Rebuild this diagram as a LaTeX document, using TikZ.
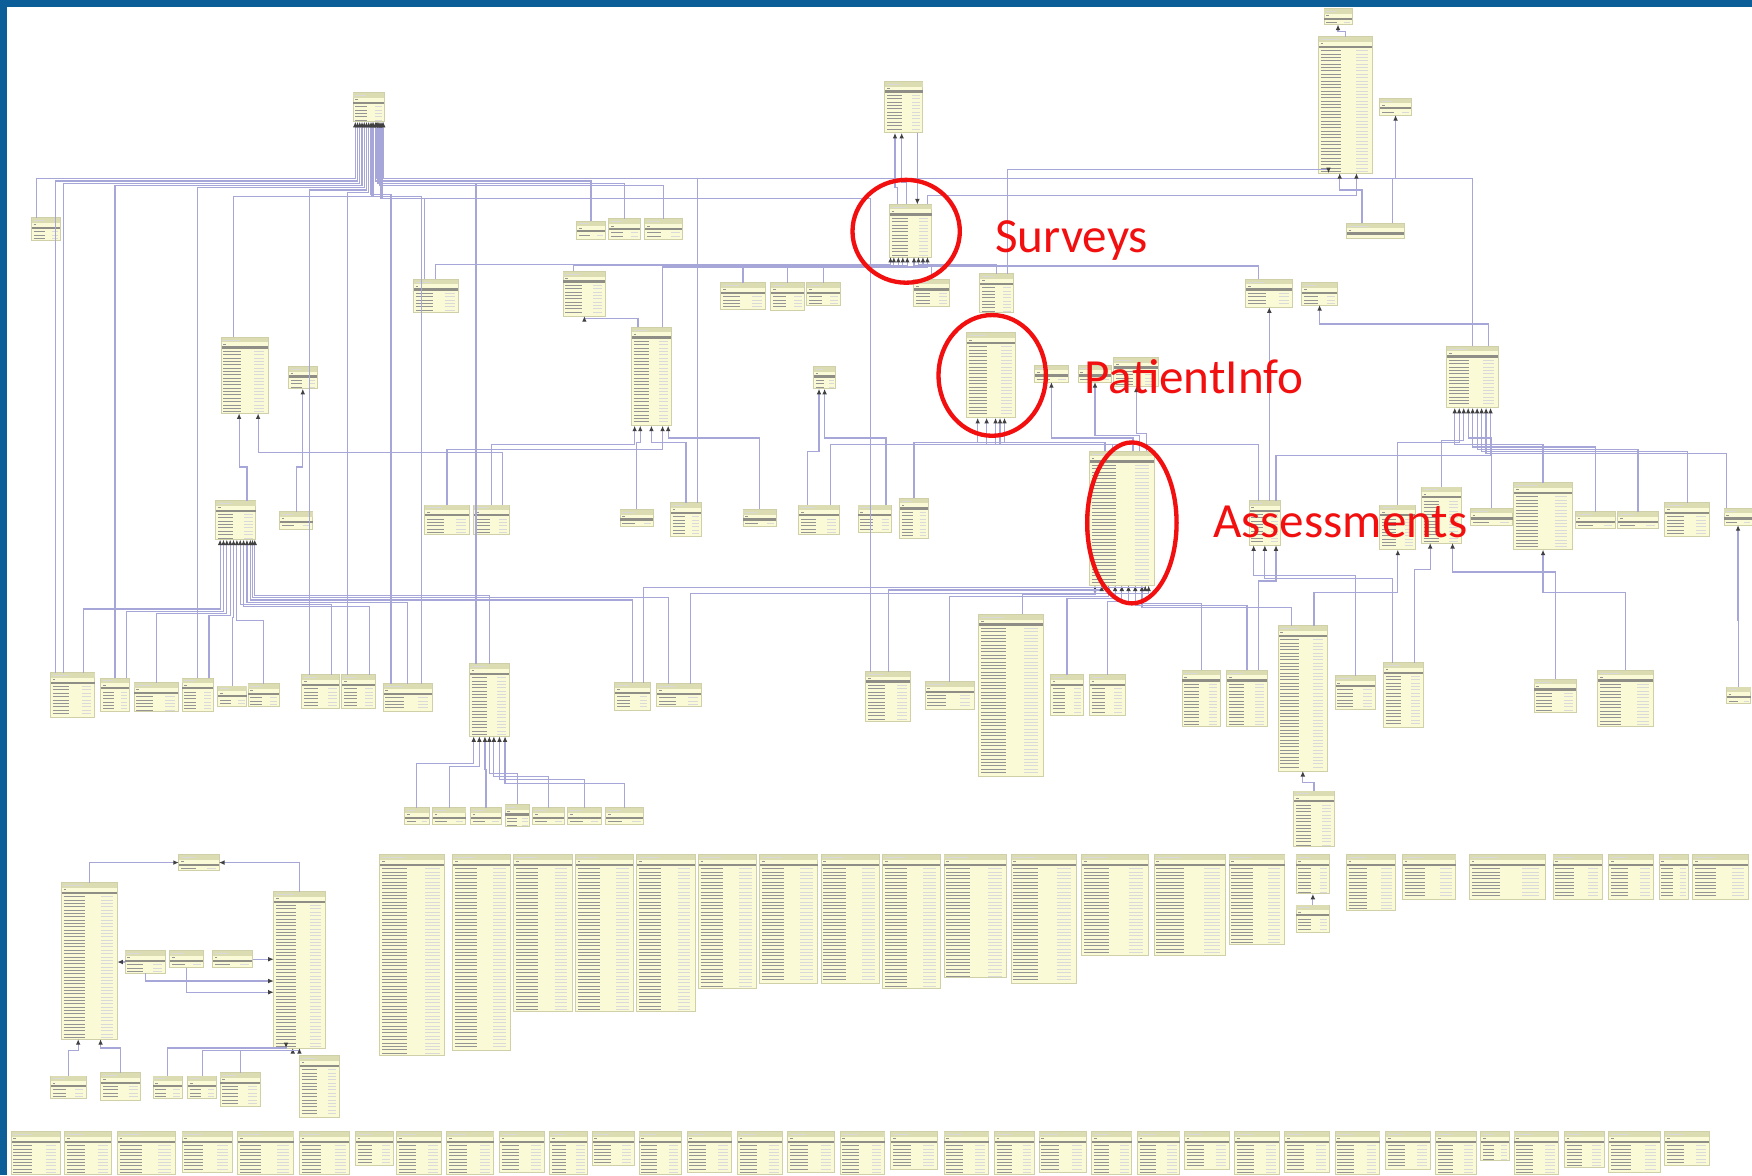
\documentclass[tikz,border=0pt]{standalone}
\usepackage{fontspec}
\newfontfamily\calloutfont{Carlito}
\usetikzlibrary{shapes.geometric,arrows.meta,calc}
\definecolor{frameblue}{HTML}{0B5E97}
\definecolor{tblfill}{HTML}{FAFAD6}
\definecolor{tbledge}{HTML}{CFCFA8}
\definecolor{tblhead}{HTML}{DCDCB2}
\definecolor{tblbar}{HTML}{8E8E86}
\definecolor{linkc}{HTML}{A6A6D8}
\definecolor{markred}{HTML}{F20F0F}
\tikzset{
  tblbox/.style={draw=tbledge,fill=tblfill,line width=0.25pt,inner sep=0pt,outer sep=0pt},
  tblhead/.style={fill=tblhead},
  tblbar/.style={fill=tblbar},
  rowtxt/.style={draw=black!42,line width=0.25pt},
  rowtxt2/.style={draw=black!15,line width=0.25pt},
  fk/.style={draw=linkc,line width=0.3pt,-{Latex[length=1.4pt,width=1.2pt,black!75]}},
  hilite/.style={ellipse,draw=markred,line width=1.1pt,inner sep=0pt},
  callout/.style={text=markred,font=\calloutfont\fontsize{12.5}{13}\selectfont,inner sep=0pt,anchor=base west},
  frame/.style={fill=frameblue}
}
% one table: name, left, top, width, height (units of the sheet)
\newcommand\dbtab[5]{%
  \node[tblbox,minimum width=#4*0.1mm,minimum height=#5*0.1mm] (#1) at ({#2+#4/2},{#3+#5/2}) {};
  \begin{scope}[shift={(#2,#3)}]
    \fill[tblhead] (0.3,0.3) rectangle ({#4-0.3},4.5);
    \draw[rowtxt2] (2,2.4) -- ++({#4*0.35},0);
    \draw[rowtxt] (2,6.3) -- ++(2.5,0);
    \fill[tblbar] (0.3,8) rectangle ({#4-0.3},10);
    \pgfmathtruncatemacro\nrows{(#5-11)/3}
    \ifnum\nrows>0
      \foreach \r in {1,...,\nrows}{
        \draw[rowtxt] (2,{9.5+3*\r}) -- ++({#4*0.38},0);
        \draw[rowtxt2] ({#4*0.7},{9.5+3*\r}) -- ++({#4*0.22},0);
      }
    \fi
  \end{scope}}
\newcommand\fk[3]{\draw[fk] (#1) -- ++(0,-#2) -| (#3);}

\begin{document}
\begin{tikzpicture}[x=0.01cm,y=-0.01cm]
  \useasboundingbox (0,0) rectangle (1568,1052);
  \fill[white] (0,0) rectangle (1568,1052);
  \fill[frame] (0,0) rectangle (1568,6);
  \fill[frame] (0,0) rectangle (6,1052);

  % upper part
  \dbtab{resource}{316}{83}{28}{26}
  \dbtab{surveyGrp}{792}{73}{34}{46}
  \dbtab{toolTip}{1185}{8}{25}{14}
  \dbtab{appConfig}{1180}{33}{48}{122}
  \dbtab{cfgFlag}{1235}{88}{28}{15}
  \dbtab{cfgLink}{1205}{200}{52}{13}
  \dbtab{address}{28}{195}{26}{20}
  \dbtab{lkA}{516}{198}{26}{16}
  \dbtab{lkB}{545}{196}{28}{18}
  \dbtab{lkC}{577}{196}{34}{18}
  \dbtab{survey}{796}{183}{38}{47}
  \dbtab{sysSeries}{370}{250}{40}{30}
  \dbtab{sysSeq}{504}{243}{38}{40}
  \dbtab{qTempl}{645}{253}{40}{24}
  \dbtab{qItem}{690}{253}{30}{25}
  \dbtab{qMeta}{722}{253}{30}{20}
  \dbtab{qGroup}{818}{250}{32}{24}
  \dbtab{qConfig}{877}{245}{30}{35}
  \dbtab{notify}{1115}{250}{42}{25}
  \dbtab{chartA}{1165}{253}{32}{20}
  \dbtab{clinician}{198}{302}{42}{68}
  \dbtab{tagTbl}{258}{328}{26}{20}
  \dbtab{surveyItem}{565}{293}{36}{88}
  \dbtab{patientInfo}{865}{298}{44}{76}
  \dbtab{piLinkA}{926}{327}{30}{15}
  \dbtab{piLinkB}{965}{327}{30}{15}
  \dbtab{assessRes}{997}{320}{40}{26}
  \dbtab{langTbl}{728}{328}{20}{20}
  \dbtab{analyticsCfg}{1295}{310}{46}{55}
  \dbtab{assessment}{975}{404}{58}{120}

  % middle row
  \dbtab{m1}{193}{448}{36}{35}
  \dbtab{m2}{250}{458}{30}{16}
  \dbtab{m3}{380}{452}{40}{26}
  \dbtab{m4}{424}{452}{32}{26}
  \dbtab{m5}{555}{456}{30}{15}
  \dbtab{m6}{600}{450}{28}{30}
  \dbtab{m7}{665}{456}{30}{15}
  \dbtab{m8}{715}{452}{36}{26}
  \dbtab{m9}{768}{452}{30}{25}
  \dbtab{m10}{805}{446}{26}{36}
  \dbtab{report}{1118}{448}{28}{40}
  \dbtab{r2}{1235}{452}{32}{40}
  \dbtab{r3}{1272}{436}{36}{50}
  \dbtab{r4}{1316}{455}{38}{15}
  \dbtab{r5}{1355}{432}{52}{60}
  \dbtab{r6}{1410}{458}{36}{15}
  \dbtab{r7}{1448}{458}{36}{15}
  \dbtab{r8}{1490}{450}{40}{30}
  \dbtab{r9}{1543}{455}{25}{15}

  % lower row
  \dbtab{b1}{45}{602}{40}{40}
  \dbtab{b2}{90}{607}{26}{30}
  \dbtab{b3}{120}{611}{40}{26}
  \dbtab{b4}{163}{607}{28}{30}
  \dbtab{b5}{195}{614}{26}{18}
  \dbtab{b6}{222}{612}{28}{20}
  \dbtab{b7}{270}{604}{34}{30}
  \dbtab{b8}{306}{604}{30}{30}
  \dbtab{b9}{343}{612}{44}{25}
  \dbtab{fileTbl}{420}{594}{36}{65}
  \dbtab{b10}{550}{611}{32}{25}
  \dbtab{b11}{588}{612}{40}{20}
  \dbtab{b12}{775}{601}{40}{45}
  \dbtab{b13}{828}{610}{44}{25}
  \dbtab{assessItem}{876}{550}{58}{145}
  \dbtab{b14}{940}{604}{30}{36}
  \dbtab{b15}{975}{604}{32}{36}
  \dbtab{b16}{1058}{600}{34}{50}
  \dbtab{b17}{1098}{600}{36}{50}
  \dbtab{reportItem}{1144}{560}{44}{130}
  \dbtab{b18}{1195}{605}{36}{30}
  \dbtab{b19}{1238}{593}{36}{58}
  \dbtab{b20}{1373}{608}{38}{30}
  \dbtab{b21}{1430}{600}{50}{50}
  \dbtab{b22}{1545}{615}{22}{15}
  \dbtab{b23}{1158}{708}{36}{50}
  \dbtab{f1}{362}{723}{22}{15}
  \dbtab{f2}{387}{723}{30}{15}
  \dbtab{f3}{421}{723}{28}{15}
  \dbtab{f4}{452}{720}{22}{20}
  \dbtab{f5}{477}{723}{28}{15}
  \dbtab{f6}{508}{723}{30}{15}
  \dbtab{f7}{542}{723}{34}{15}

  % bottom left cluster
  \dbtab{c1}{160}{765}{36}{14}
  \dbtab{c2}{55}{790}{50}{140}
  \dbtab{c3}{245}{798}{46}{140}
  \dbtab{c4}{112}{851}{36}{20}
  \dbtab{c5}{152}{851}{30}{15}
  \dbtab{c6}{190}{851}{36}{15}
  \dbtab{c7}{45}{963}{32}{20}
  \dbtab{c8}{90}{960}{36}{25}
  \dbtab{c9}{137}{963}{26}{20}
  \dbtab{c10}{168}{963}{26}{20}
  \dbtab{c11}{197}{960}{36}{30}
  \dbtab{c12}{268}{945}{36}{55}

  % standalone columns
  \foreach \nm/\x/\w/\h in {w1/340/58/180,w2/405/52/175,w3/460/52/140,w4/515/52/140,
      w5/570/52/140,w6/625/52/120,w7/680/52/115,w8/735/52/115,w9/790/52/120,
      w10/845/56/110,w11/905/58/115,w12/968/60/90,w13/1033/64/90,w14/1100/50/80,
      w15/1160/30/35,w16/1205/44/50,w17/1255/48/40,w18/1315/68/40,w19/1390/44/40,
      w20/1440/40/40,w21/1485/26/40,w22/1515/50/40}{
    \dbtab{\nm}{\x}{765}{\w}{\h}
  }
  \dbtab{w15b}{1160}{810}{30}{25}
  \foreach \bx/\bw/\bh [count=\k] in {10/44/38,58/42/38,105/52/38,163/45/36,213/50/38,
      268/45/38,318/34/30,355/40/38,400/42/38,447/40/36,492/34/38,530/38/30,572/38/38,
      615/40/36,660/40/38,705/42/36,752/40/38,797/42/34,845/40/38,890/36/38,930/42/36,
      977/36/38,1018/38/38,1060/40/34,1105/40/38,1150/40/36,1195/40/38,1240/40/34,
      1285/36/38,1325/26/26,1355/40/38,1400/36/32,1440/46/36,1490/40/30}{
    \dbtab{bt\k}{\bx}{1013}{\bw}{\bh}
  }

  % links to resource
  \fk{[xshift=-0.8mm]address.north}{35}{[xshift=-1.2mm]resource.south}
  \fk{[xshift=-1.5mm]b1.north}{440}{[xshift=-1.0mm]resource.south}
  \fk{[xshift=-0.8mm]b1.north}{438}{[xshift=-0.8mm]resource.south}
  \fk{b2.north}{441}{[xshift=-0.6mm]resource.south}
  \fk{b4.north}{439}{[xshift=-0.4mm]resource.south}
  \fk{[xshift=-1mm]b7.north}{434}{[xshift=-0.2mm]resource.south}
  \fk{[xshift=-1mm]b8.north}{432}{resource.south}
  \fk{[xshift=-1.5mm]b9.north}{438}{[xshift=0.2mm]resource.south}
  \fk{[xshift=1.2mm]b9.north}{436}{[xshift=0.3mm]resource.south}
  \fk{[xshift=-1mm]clinician.north}{126}{[xshift=0.4mm]resource.south}
  \fk{lkA.north}{36}{[xshift=0.6mm]resource.south}
  \fk{lkB.north}{32}{[xshift=0.8mm]resource.south}
  \fk{lkC.north}{30}{[xshift=1.0mm]resource.south}
  \fk{[xshift=-1mm]sysSeries.north}{72}{[xshift=1.1mm]resource.south}
  \fk{[xshift=-1.6mm]b12.north}{423}{[xshift=1.2mm]resource.south}
  \fk{analyticsCfg.north}{150}{[xshift=1.3mm]resource.south}
  \fk{[xshift=-1.2mm]fileTbl.north}{430}{[xshift=0.9mm]resource.south}
  \fk{[xshift=1mm]m6.north}{290}{[xshift=0.7mm]resource.south}

  % links to survey
  \draw[fk] ([xshift=1.2mm]surveyGrp.south) -- ++(0,20) -| ([xshift=0.6mm]survey.north);
  \draw[fk] ([xshift=-1.2mm]survey.north) -- ++(0,-15) -| ([xshift=-0.8mm]surveyGrp.south);
  \draw[fk] ([xshift=-0.4mm]survey.north) -- ++(0,-20) -| ([xshift=-0.2mm]surveyGrp.south);
  \draw[fk] ([xshift=1.5mm]survey.north) -- ++(0,-8) -| ([xshift=1mm]appConfig.south);
  \fk{[xshift=-1mm]sysSeq.north}{5}{[xshift=-1.5mm]survey.south}
  \fk{qTempl.north}{15}{[xshift=-1.1mm]survey.south}
  \fk{qItem.north}{15}{[xshift=-0.7mm]survey.south}
  \fk{qMeta.north}{15}{[xshift=-0.3mm]survey.south}
  \fk{qGroup.north}{12}{[xshift=0.3mm]survey.south}
  \fk{qConfig.north}{8}{[xshift=0.7mm]survey.south}
  \fk{[xshift=-1mm]notify.north}{12}{[xshift=1.1mm]survey.south}
  \fk{sysSeries.north}{13}{[xshift=-1.8mm]survey.south}
  \fk{[xshift=1mm]surveyItem.north}{54}{[xshift=1.5mm]survey.south}
  \fk{[xshift=1mm]qConfig.north}{93}{[xshift=-1.5mm]appConfig.south}
  \draw[fk] ([xshift=-1.2mm]surveyItem.north) -- ++(0,-8) -| (sysSeq.south);

  % app configuration
  \draw[fk] ([xshift=-1.2mm]cfgLink.north) -- ++(0,-30) -| ([xshift=-0.5mm]appConfig.south);
  \draw[fk] ([xshift=1.5mm]cfgLink.north) -- ++(0,-40) -| (cfgFlag.south);
  \draw[fk] (appConfig.north) -- ++(0,-5) -| (toolTip.south);

  % links to patient info
  \fk{[xshift=-1.5mm]assessment.north}{8}{[xshift=-1.2mm]patientInfo.south}
  \fk{[xshift=-0.8mm]assessment.north}{6}{[xshift=-0.4mm]patientInfo.south}
  \fk{m10.north}{50}{[xshift=1.2mm]patientInfo.south}
  \fk{[xshift=1mm]m8.north}{54}{[xshift=0.4mm]patientInfo.south}
  \fk{[xshift=-0.6mm]report.north}{50}{[xshift=0.8mm]patientInfo.south}
  \fk{[xshift=1mm]assessment.north}{12}{piLinkA.south}
  \fk{[xshift=1.6mm]assessment.north}{14}{piLinkB.south}
  \fk{[xshift=2.2mm]assessment.north}{16}{assessRes.south}
  \fk{[xshift=1mm]m9.north}{60}{langTbl.south}
  \fk{[xshift=-1mm]m8.north}{48}{[xshift=-0.5mm]langTbl.south}
  \fk{m5.north}{60}{[xshift=-1mm]surveyItem.south}
  \fk{m6.north}{54}{surveyItem.south}
  \fk{m3.north}{50}{[xshift=1mm]surveyItem.south}
  \fk{m4.north}{54}{[xshift=-1.5mm]surveyItem.south}
  \fk{[xshift=1mm]m1.north}{30}{[xshift=-0.5mm]clinician.south}
  \fk{[xshift=1mm]m4.north}{47}{[xshift=1.2mm]clinician.south}
  \draw[fk] (m2.north) -- ++(0,-40) -| (tagTbl.south);
  \fk{m7.north}{64}{[xshift=1.5mm]surveyItem.south}

  % links to the first middle table
  \fk{[xshift=1mm]b1.north}{57}{[xshift=-1.4mm]m1.south}
  \fk{[xshift=1mm]b2.north}{60}{[xshift=-1.1mm]m1.south}
  \fk{b3.north}{62}{[xshift=-0.8mm]m1.south}
  \fk{[xshift=1mm]b4.north}{56}{[xshift=-0.5mm]m1.south}
  \fk{b5.north}{61}{[xshift=-0.2mm]m1.south}
  \fk{b6.north}{57}{[xshift=0.1mm]m1.south}
  \fk{[xshift=1mm]b7.north}{63}{[xshift=0.4mm]m1.south}
  \fk{[xshift=1mm]b8.north}{61}{[xshift=0.7mm]m1.south}
  \fk{b9.north}{73}{[xshift=1.0mm]m1.south}
  \fk{b10.north}{74}{[xshift=1.3mm]m1.south}
  \fk{[xshift=-1mm]b11.north}{77}{[xshift=1.5mm]m1.south}
  \fk{fileTbl.north}{61}{[xshift=1.7mm]m1.south}

  % links to the file table
  \fk{f1.north}{40}{[xshift=-1.4mm]fileTbl.south}
  \fk{f2.north}{37}{[xshift=-0.9mm]fileTbl.south}
  \fk{f3.north}{34}{[xshift=-0.4mm]fileTbl.south}
  \fk{f4.north}{28}{fileTbl.south}
  \fk{f5.north}{28}{[xshift=0.4mm]fileTbl.south}
  \fk{f6.north}{25}{[xshift=0.9mm]fileTbl.south}
  \fk{f7.north}{22}{[xshift=1.4mm]fileTbl.south}

  % links to assessment
  \fk{[xshift=1mm]assessItem.north}{18}{[xshift=-2.4mm]assessment.south}
  \fk{b12.north}{73}{[xshift=-1.8mm]assessment.south}
  \fk{b13.north}{76}{[xshift=-1.2mm]assessment.south}
  \fk{b14.north}{68}{[xshift=-0.6mm]assessment.south}
  \fk{b15.north}{66}{assessment.south}
  \fk{b16.north}{60}{[xshift=0.6mm]assessment.south}
  \fk{b17.north}{58}{[xshift=1.2mm]assessment.south}
  \fk{[xshift=-1mm]reportItem.north}{16}{[xshift=1.8mm]assessment.south}
  \fk{[xshift=1mm]b11.north}{81}{[xshift=2.4mm]assessment.south}
  \fk{[xshift=1mm]b10.north}{85}{[xshift=2.1mm]assessment.south}

  % links to reports
  \fk{b18.north}{90}{[xshift=-1mm]report.south}
  \fk{[xshift=-1mm]b19.north}{75}{report.south}
  \fk{[xshift=1mm]b17.north}{80}{[xshift=1mm]report.south}
  \fk{b20.north}{96}{[xshift=1mm]r3.south}
  \fk{[xshift=1mm]b19.north}{83}{[xshift=-1mm]r3.south}
  \fk{b21.north}{70}{r5.south}
  \fk{b22.north}{60}{r9.south}
  \fk{[xshift=1mm]reportItem.north}{30}{r2.south}
  \draw[fk] (b23.north) -- ++(0,-8) -| (reportItem.south);
  \draw[fk] ([xshift=0.4mm]report.north) -- ++(0,-30) -| (notify.south);
  \draw[fk] ([xshift=1.4mm]analyticsCfg.north) -- ++(0,-20) -| (chartA.south);
  \fk{r5.north}{34}{[xshift=-1.6mm]analyticsCfg.south}
  \fk{r2.north}{56}{[xshift=-1.2mm]analyticsCfg.south}
  \fk{r3.north}{42}{[xshift=-0.8mm]analyticsCfg.south}
  \fk{r4.north}{63}{[xshift=-0.4mm]analyticsCfg.south}
  \fk{r6.north}{58}{analyticsCfg.south}
  \fk{r7.north}{56}{[xshift=0.4mm]analyticsCfg.south}
  \fk{r8.north}{46}{[xshift=0.8mm]analyticsCfg.south}
  \fk{[xshift=-1mm]r9.north}{49}{[xshift=1.2mm]analyticsCfg.south}
  \fk{[xshift=1mm]report.north}{40}{[xshift=1.6mm]analyticsCfg.south}

  % bottom left
  \draw[fk] (c2.north) |- (c1.west);
  \draw[fk] (c3.north) |- (c1.east);
  \draw[fk] (c4.west) -- (c2.east |- c4.west);
  \draw[fk] (c5.south) |- ([yshift=-2mm]c3.west);
  \draw[fk] (c6.east) -- (c3.west |- c6.east);
  \draw[fk] (c4.south) |- ([yshift=-1mm]c3.west);
  \fk{c7.north}{23}{[xshift=-1mm]c2.south}
  \fk{c8.north}{22}{[xshift=1mm]c2.south}
  \fk{c9.north}{25}{[xshift=-1.2mm]c3.south}
  \fk{c10.north}{23}{[xshift=-0.6mm]c3.south}
  \fk{c11.north}{20}{c3.south}
  \draw[fk] (w15b.north) -- (w15.south);

  % highlights
  \node[hilite,minimum width=96*0.1mm,minimum height=92*0.1mm] (surveyRing) at (811,207) {};
  \node[hilite,minimum width=96*0.1mm,minimum height=108*0.1mm] (patientRing) at (888,336) {};
  \node[hilite,minimum width=80*0.1mm,minimum height=144*0.1mm] (assessRing) at (1013,468) {};
  \node[callout] (surveyLbl) at (890,226) {Surveys};
  \node[callout] (patientLbl) at (970,352) {PatientInfo};
  \node[callout] (assessLbl) at (1085,481) {Assessments};
\end{tikzpicture}
\end{document}
